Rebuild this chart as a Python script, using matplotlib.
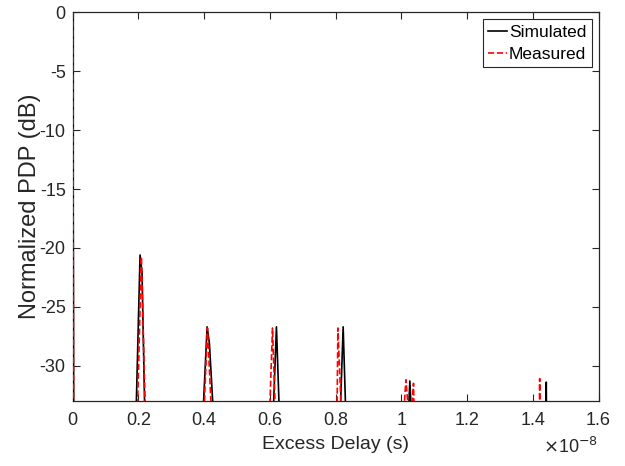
import numpy as np
import matplotlib.pyplot as plt
from matplotlib.ticker import FuncFormatter

plt.rcParams['font.family'] = ['Liberation Sans', 'DejaVu Sans']
plt.rcParams['axes.unicode_minus'] = False

# Power delay profiles, delay in seconds, power in dB (floor sits below the axis range)
sim_delay = np.array([0, 0.003, 0.192, 0.205, 0.211, 0.220, 0.395, 0.409, 0.416, 0.430,
                      0.609, 0.620, 0.630, 0.813, 0.823, 0.832, 1.020, 1.026, 1.032,
                      1.440, 1.441, 1.442, 1.6]) * 1e-8
sim_pdp = np.array([0, -35, -35, -20.6, -22.1, -35, -35, -26.7, -28.1, -35,
                    -35, -26.7, -35, -35, -26.7, -35, -35, -31.3, -35,
                    -35, -31.4, -35, -35])

meas_delay = np.array([0, 0.003, 0.196, 0.209, 0.222, 0.398, 0.410, 0.424,
                       0.598, 0.608, 0.618, 0.804, 0.807, 0.819,
                       1.005, 1.014, 1.025, 1.030, 1.037, 1.040,
                       1.420, 1.421, 1.422, 1.6]) * 1e-8
meas_pdp = np.array([0, -35, -35, -20.75, -35, -35, -26.8, -35,
                     -35, -26.8, -35, -35, -26.8, -35,
                     -35, -31.2, -35, -35, -31.5, -35,
                     -35, -31.1, -35, -35])

x_ticks = np.arange(0, 1.61, 0.2) * 1e-8
y_ticks = np.arange(-30, 1, 5)

fig = plt.figure(figsize=(6.25, 4.66), dpi=100)
ax = fig.add_axes([0.1163, 0.1395, 0.8413, 0.8337])

ax.plot(sim_delay, sim_pdp, color='black', lw=1.2, label='Simulated', zorder=3)
ax.plot(meas_delay, meas_pdp, color='red', ls='--', lw=1.2, label='Measured', zorder=3)

ax.set_xlim(0, 1.6e-8)
ax.set_ylim(-33, 0)
ax.set_xticks(x_ticks)
ax.set_yticks(y_ticks)
ax.xaxis.set_major_formatter(FuncFormatter(lambda v, p: '%g' % round(v * 1e8, 6)))
ax.yaxis.set_major_formatter(FuncFormatter(lambda v, p: '%g' % v))

dark = '#262626'
for s in ax.spines.values():
    s.set_color(dark)
    s.set_linewidth(0.9)
    s.set_zorder(2)
ax.tick_params(direction='in', length=5, width=0.8, colors=dark, labelsize=13,
               top=True, right=True)
ax.tick_params(axis='x', pad=8)
ax.tick_params(axis='y', pad=5)

ax.set_xlabel('Excess Delay (s)', fontsize=14, color=dark, labelpad=5)
ax.set_ylabel('Normalized PDP (dB)', fontsize=17, color=dark, labelpad=-1)
# exponent for the delay axis, placed under the last tick label
ax.text(1.0, -0.092, r'$\times$10$^{-8}$', transform=ax.transAxes, ha='right', va='top',
        fontsize=13, color=dark)

leg = ax.legend(loc='upper right', fontsize=12.5, handlelength=1.1, handletextpad=0.1,
                borderpad=0.3, labelspacing=0.4, borderaxespad=0.4, fancybox=False,
                framealpha=1, edgecolor=dark)
leg.get_frame().set_linewidth(0.8)

fig.savefig('out.png', dpi=100)
